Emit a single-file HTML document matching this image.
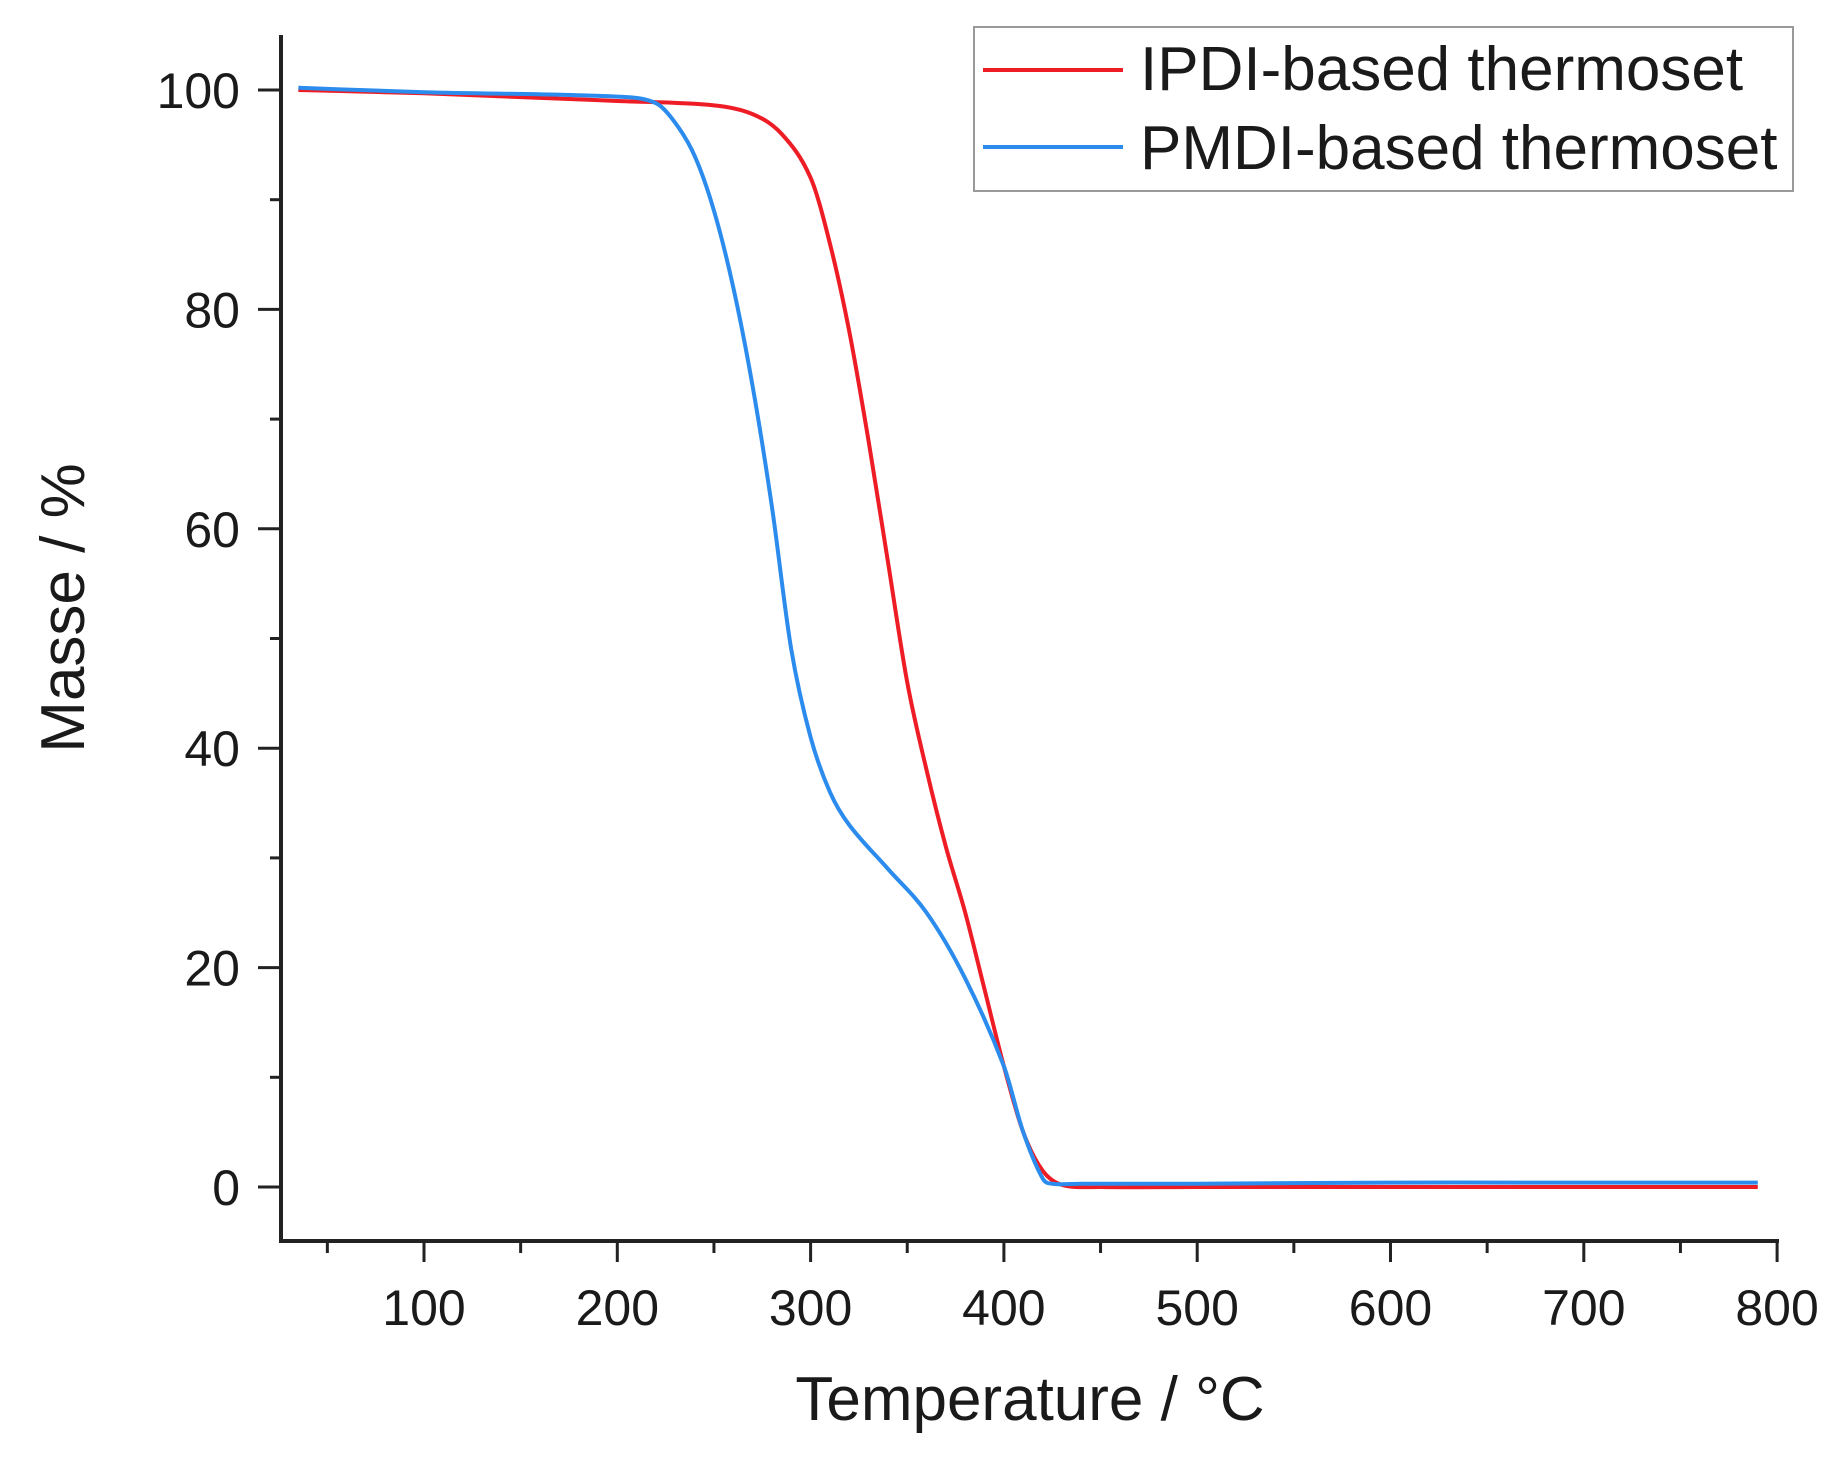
<!DOCTYPE html>
<html><head><meta charset="utf-8"><style>
body{margin:0;background:#fff}
svg text{font-family:"Liberation Sans",Arial,sans-serif;fill:#1a1a1a}
</style></head><body>
<svg id="chart" width="1840" height="1455" viewBox="0 0 1840 1455" xmlns="http://www.w3.org/2000/svg">
<g id="axes"></g>
<g id="series"></g>
<g>
<rect x="974" y="27" width="819" height="164" fill="#fff" stroke="#999" stroke-width="2"/>
<line x1="983" y1="70" x2="1123" y2="70" stroke="#ee1c25" stroke-width="4"/>
<text x="1140" y="90" font-size="62">IPDI-based thermoset</text>
<line x1="983" y1="147" x2="1123" y2="147" stroke="#2b8ced" stroke-width="4"/>
<text x="1140" y="169" font-size="62">PMDI-based thermoset</text>
</g>
<text x="1030" y="1420" font-size="62" text-anchor="middle">Temperature / °C</text>
<text transform="translate(84,608) rotate(-90)" font-size="62" text-anchor="middle">Masse / %</text>
</svg>
<script>
const xTicks=[100,200,300,400,500,600,700,800];
const yTicks=[0,20,40,60,80,100];
const ipdiT=[35,100,200,250,270,285,300,310,320,330,340,350,360,370,380,390,400,410,420,430,450,500,600,700,790];
const ipdiM=[100,99.7,99,98.6,97.8,96,92,86,78,68,57,46,38,31,25,18,11,5,1.5,0.2,0,0,0,0,0];
const pmdiT=[35,100,200,220,230,240,250,260,270,280,290,300,310,320,340,360,380,400,410,420,425,440,500,600,700,790];
const pmdiM=[100.2,99.8,99.4,98.8,97,94,89,82,73,62,49,41,36,33,29,25,19,11,5,0.8,0.3,0.3,0.3,0.4,0.4,0.4];
const X=t=>424+(t-100)*1.933;
const Y=m=>1187-m*10.97;
const NS="http://www.w3.org/2000/svg";
const axes=document.getElementById('axes');
function mk(tag,attrs,parent){const e=document.createElementNS(NS,tag);for(const k in attrs)e.setAttribute(k,attrs[k]);parent.appendChild(e);return e;}
const yAxis=mk('line',{x1:281,y1:35,x2:281,y2:1241,stroke:'#222','stroke-width':4},axes);


const xAxis=mk('line',{x1:279,y1:1241,x2:1779,y2:1241,stroke:'#222','stroke-width':4},axes);


xTicks.forEach(t=>{
 const l=mk('line',{x1:X(t),y1:1241,x2:X(t),y2:1262,stroke:'#222','stroke-width':3},axes);
 
 
 const m=mk('line',{x1:X(t-50),y1:1241,x2:X(t-50),y2:1253,stroke:'#222','stroke-width':3},axes);
 
 
 const tx=mk('text',{x:X(t),y:1325,'font-size':50,'text-anchor':'middle'},axes);
 tx.textContent=t;
 
 
});
yTicks.forEach(v=>{
 const l=mk('line',{x1:258,y1:Y(v),x2:281,y2:Y(v),stroke:'#222','stroke-width':3},axes);
 
 
 if(v<100){const m=mk('line',{x1:270,y1:Y(v+10),x2:281,y2:Y(v+10),stroke:'#222','stroke-width':3},axes);
 
 }
 const tx=mk('text',{x:240,y:Y(v)+18,'font-size':50,'text-anchor':'end'},axes);
 tx.textContent=v;
 
 
});
function path(T,M){const p=T.map((t,i)=>[X(t),Y(M[i])]);
 let d='M'+p[0][0]+','+p[0][1];
 for(let i=0;i<p.length-1;i++){const p0=p[Math.max(0,i-1)],p1=p[i],p2=p[i+1],p3=p[Math.min(p.length-1,i+2)];
  const h=p2[0]-p1[0];
  const s1=(p2[1]-p0[1])/(p2[0]-p0[0]||1), s2=(p3[1]-p1[1])/(p3[0]-p1[0]||1);
  const c1=[p1[0]+h/3,p1[1]+s1*h/3],c2=[p2[0]-h/3,p2[1]-s2*h/3];
  d+=` C${c1[0]},${c1[1]} ${c2[0]},${c2[1]} ${p2[0]},${p2[1]}`;}
 return d;}
const ser=document.getElementById('series');
const a=mk('path',{d:path(ipdiT,ipdiM),fill:'none',stroke:'#ee1c25','stroke-width':4},ser);


const b=mk('path',{d:path(pmdiT,pmdiM),fill:'none',stroke:'#2b8ced','stroke-width':4},ser);


</script>
</body></html>
